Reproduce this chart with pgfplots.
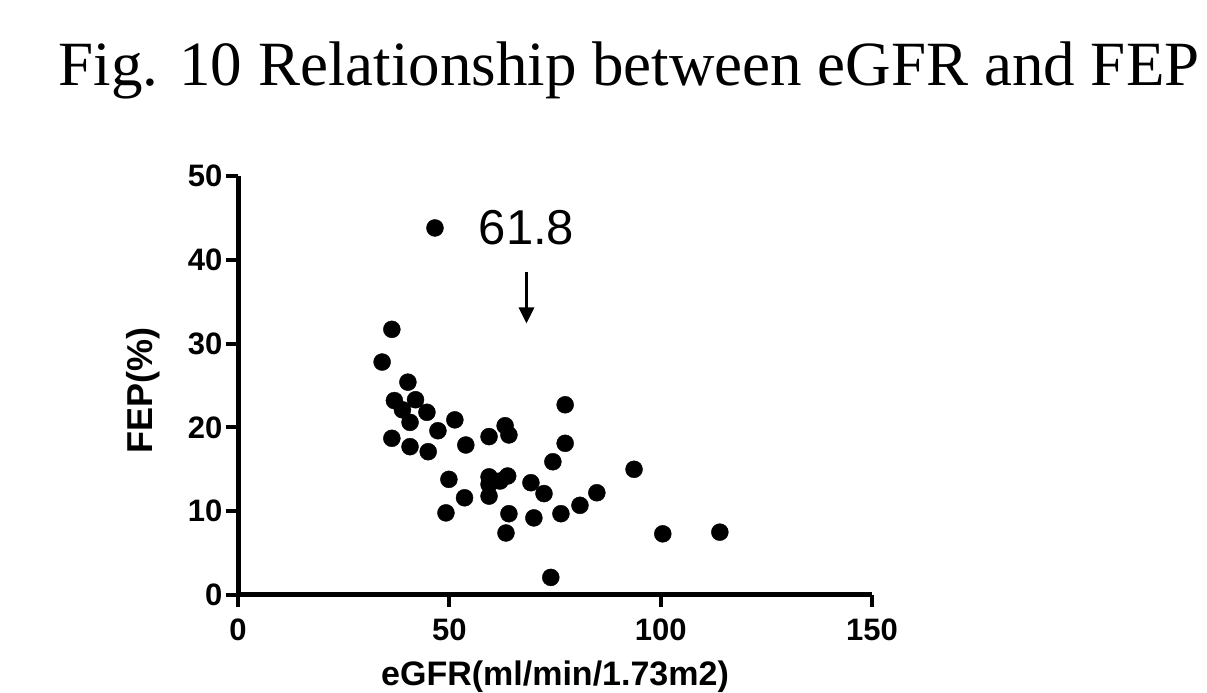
\documentclass[border=0pt]{standalone}
\usepackage{pgfplots}
\pgfplotsset{compat=1.18}
\usepackage{fontspec}
\setmainfont{Liberation Serif}
\newfontfamily\arial{Liberation Sans}
\usetikzlibrary{arrows.meta}
\begin{document}
\begin{tikzpicture}[x=1pt,y=1pt]
\useasboundingbox (0,0) rectangle (1207,693);
\node[font=\fontsize{63}{70}\selectfont, anchor=base, inner sep=0pt] at (629,607) {Fig. 10 Relationship between eGFR and FEP};
\begin{axis}[at={(238pt,98pt)}, anchor=south west, scale only axis,
  width=634pt, height=419pt,
  xmin=0, xmax=150, ymin=0, ymax=50,
  xtick={0,50,100,150}, ytick={0,10,20,30,40,50},
  axis x line*=bottom, axis y line*=left,
  axis line style={line width=5pt},
  tick style={line width=4pt, black},
  tick align=outside, major tick length=12pt,
  ticklabel style={font=\arial\bfseries\fontsize{31}{31}\selectfont},
  xticklabel style={yshift=-8pt},
  /pgf/number format/assume math mode=true,
  xlabel={eGFR(ml/min/1.73m2)}, ylabel={FEP(\%)},
  xlabel style={font=\arial\bfseries\fontsize{34}{34}\selectfont, at={(axis description cs:0.5,0)}, anchor=base, yshift=-90pt},
  ylabel style={font=\arial\bfseries\fontsize{36}{36}\selectfont, at={(axis description cs:-0.15,0.489)}, anchor=center},
  clip=false]
\addplot[only marks, mark=*, mark size=8.5pt, black] table {
x y
46.6 43.8
36.4 31.7
34.1 27.8
40.2 25.4
37.0 23.2
42.0 23.3
38.9 22.1
44.7 21.8
40.7 20.6
51.3 20.9
47.3 19.6
36.4 18.7
40.7 17.7
45.0 17.1
53.9 17.9
63.2 20.2
64.1 19.1
59.4 18.9
77.4 22.7
77.4 18.1
74.5 15.9
93.7 15.0
49.9 13.8
59.4 14.1
59.4 13.2
62.0 13.6
63.8 14.2
69.3 13.4
72.4 12.1
53.6 11.6
59.4 11.8
49.2 9.8
64.1 9.7
70.0 9.2
76.4 9.7
80.9 10.7
84.9 12.2
63.4 7.4
100.5 7.3
114.0 7.5
74.0 2.1
};
\node[font=\arial\fontsize{49}{49}\selectfont] at (axis cs:68.25,43.8) {61.8};
\draw[line width=3pt, -{Triangle[width=15pt,length=16pt]}] (axis cs:68.25,38.6) -- (axis cs:68.25,32.4);
\end{axis}
\end{tikzpicture}
\end{document}
